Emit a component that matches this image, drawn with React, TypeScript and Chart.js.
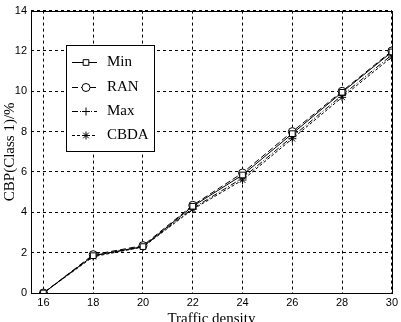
import React, { useEffect, useRef } from "react";
import { Chart, registerables } from "chart.js";
import { drawPoint } from "chart.js/helpers";

Chart.register(...registerables);

const trafficDensity = [16, 18, 20, 22, 24, 26, 28, 30];
const xTickLabels = ["16", "18", "20", "22", "24", "26", "28", "30"];
const yTicks = [0, 2, 4, 6, 8, 10, 12, 14];

const minValues = [0, 1.85, 2.3, 4.3, 5.85, 7.9, 9.95, 11.95];
const ranValues = [0, 1.9, 2.35, 4.35, 5.95, 8.0, 10.0, 12.0];
const maxValues = [0, 1.85, 2.3, 4.2, 5.7, 7.75, 9.8, 11.8];
const cbdaValues = [0, 1.8, 2.28, 4.15, 5.6, 7.65, 9.7, 11.7];

const seriesNames = ["Min", "RAN", "Max", "CBDA"];
const seriesValues = [minValues, ranValues, maxValues, cbdaValues];
const seriesStyles = ["rect", "circle", "cross", "star"];
const seriesDash = [[], [6, 3], [6, 2, 1, 2], [3, 2]];

const xTitle = "Traffic density";
const yTitle = "CBP(Class 1)/%";

const framePlugin = {
  id: "frame",
  afterDraw(chart: any) {
    const ctx = chart.ctx;
    const a = chart.chartArea;
    ctx.save();
    ctx.strokeStyle = "#000";
    ctx.lineWidth = 1;
    ctx.setLineDash([]);
    ctx.strokeRect(Math.round(a.left) + 0.5, Math.round(a.top) + 0.5, Math.round(a.right - a.left), Math.round(a.bottom - a.top));

    // axis titles
    ctx.fillStyle = "#000";
    ctx.font = "15px 'Liberation Serif'";
    ctx.textAlign = "center";
    ctx.textBaseline = "middle";
    ctx.fillText(xTitle, (a.left + a.right) / 2, 319);
    ctx.save();
    ctx.translate(10, (a.top + a.bottom) / 2);
    ctx.rotate(-Math.PI / 2);
    ctx.fillText(yTitle, 0, 0);
    ctx.restore();

    // legend box
    const bx = 66, by = 45, bw = 88, bh = 106;
    ctx.fillStyle = "#fff";
    ctx.fillRect(bx, by, bw, bh);
    ctx.strokeRect(bx + 0.5, by + 0.5, bw, bh);
    const rows = [62, 87, 111, 135];
    chart.data.datasets.forEach((ds: any, i: number) => {
      const y = rows[i] + 0.5;
      ctx.strokeStyle = "#000";
      ctx.lineWidth = 1;
      ctx.setLineDash(ds.borderDash || []);
      ctx.beginPath();
      ctx.moveTo(72, y);
      ctx.lineTo(97, y);
      ctx.stroke();
      ctx.setLineDash([]);
      ctx.fillStyle = "#fff";
      drawPoint(ctx, { pointStyle: ds.pointStyle, radius: ds.pointRadius, borderWidth: 1, rotation: 0 }, 86, y);
      ctx.fillStyle = "#000";
      ctx.font = "15px 'Liberation Serif'";
      ctx.textAlign = "left";
      ctx.textBaseline = "middle";
      ctx.fillText(ds.label, 107, rows[i]);
    });
    ctx.restore();
  },
};

export default function App() {
  const ref = useRef<HTMLCanvasElement>(null);
  useEffect(() => {
    const chart = new Chart(ref.current!, {
      type: "line",
      data: {
        datasets: seriesNames.map((name, i) => ({
          label: name,
          data: trafficDensity.map((x, j) => ({ x, y: seriesValues[i][j] })),
          borderColor: "#000",
          backgroundColor: "#fff",
          borderWidth: 1,
          borderDash: seriesDash[i],
          pointStyle: seriesStyles[i] as any,
          pointRadius: 4,
          pointBorderColor: "#000",
          pointBackgroundColor: "#fff",
          pointBorderWidth: 1,
          fill: false,
          tension: 0,
        })),
      },
      options: {
        animation: false,
        responsive: false,
        layout: { padding: { top: 6, right: 7, left: 0, bottom: 0 } },
        plugins: { legend: { display: false }, tooltip: { enabled: false } },
        scales: {
          x: {
            type: "linear",
            min: 15.5,
            max: 30,
            afterBuildTicks: (scale: any) => {
              scale.ticks = trafficDensity.map((v) => ({ value: v }));
            },
            afterFit: (scale: any) => {
              scale.height = 29;
            },
            ticks: {
              color: "#000",
              font: { family: "'Liberation Sans'", size: 11 },
              padding: 3,
              maxRotation: 0,
              callback: (v: any) => {
                const k = trafficDensity.indexOf(Number(v));
                return k >= 0 ? xTickLabels[k] : "";
              },
            },
            grid: { color: "#000", lineWidth: 1, drawTicks: false },
            border: { display: false, dash: [3, 3] },
          },
          y: {
            type: "linear",
            min: 0,
            max: 14,
            afterBuildTicks: (scale: any) => {
              scale.ticks = yTicks.map((v) => ({ value: v }));
            },
            afterFit: (scale: any) => {
              scale.width = 31;
            },
            ticks: {
              color: "#000",
              font: { family: "'Liberation Sans'", size: 11 },
              padding: 4,
            },
            grid: { color: "#000", lineWidth: 1, drawTicks: false },
            border: { display: false, dash: [3, 3] },
          },
        },
      },
      plugins: [framePlugin],
    });
    return () => chart.destroy();
  }, []);
  return (
    <div style={{ position: "fixed", left: 0, top: 0, width: 401, height: 322, background: "#fff" }}>
      <canvas ref={ref} width={401} height={322} style={{ display: "block" }} />
    </div>
  );
}
